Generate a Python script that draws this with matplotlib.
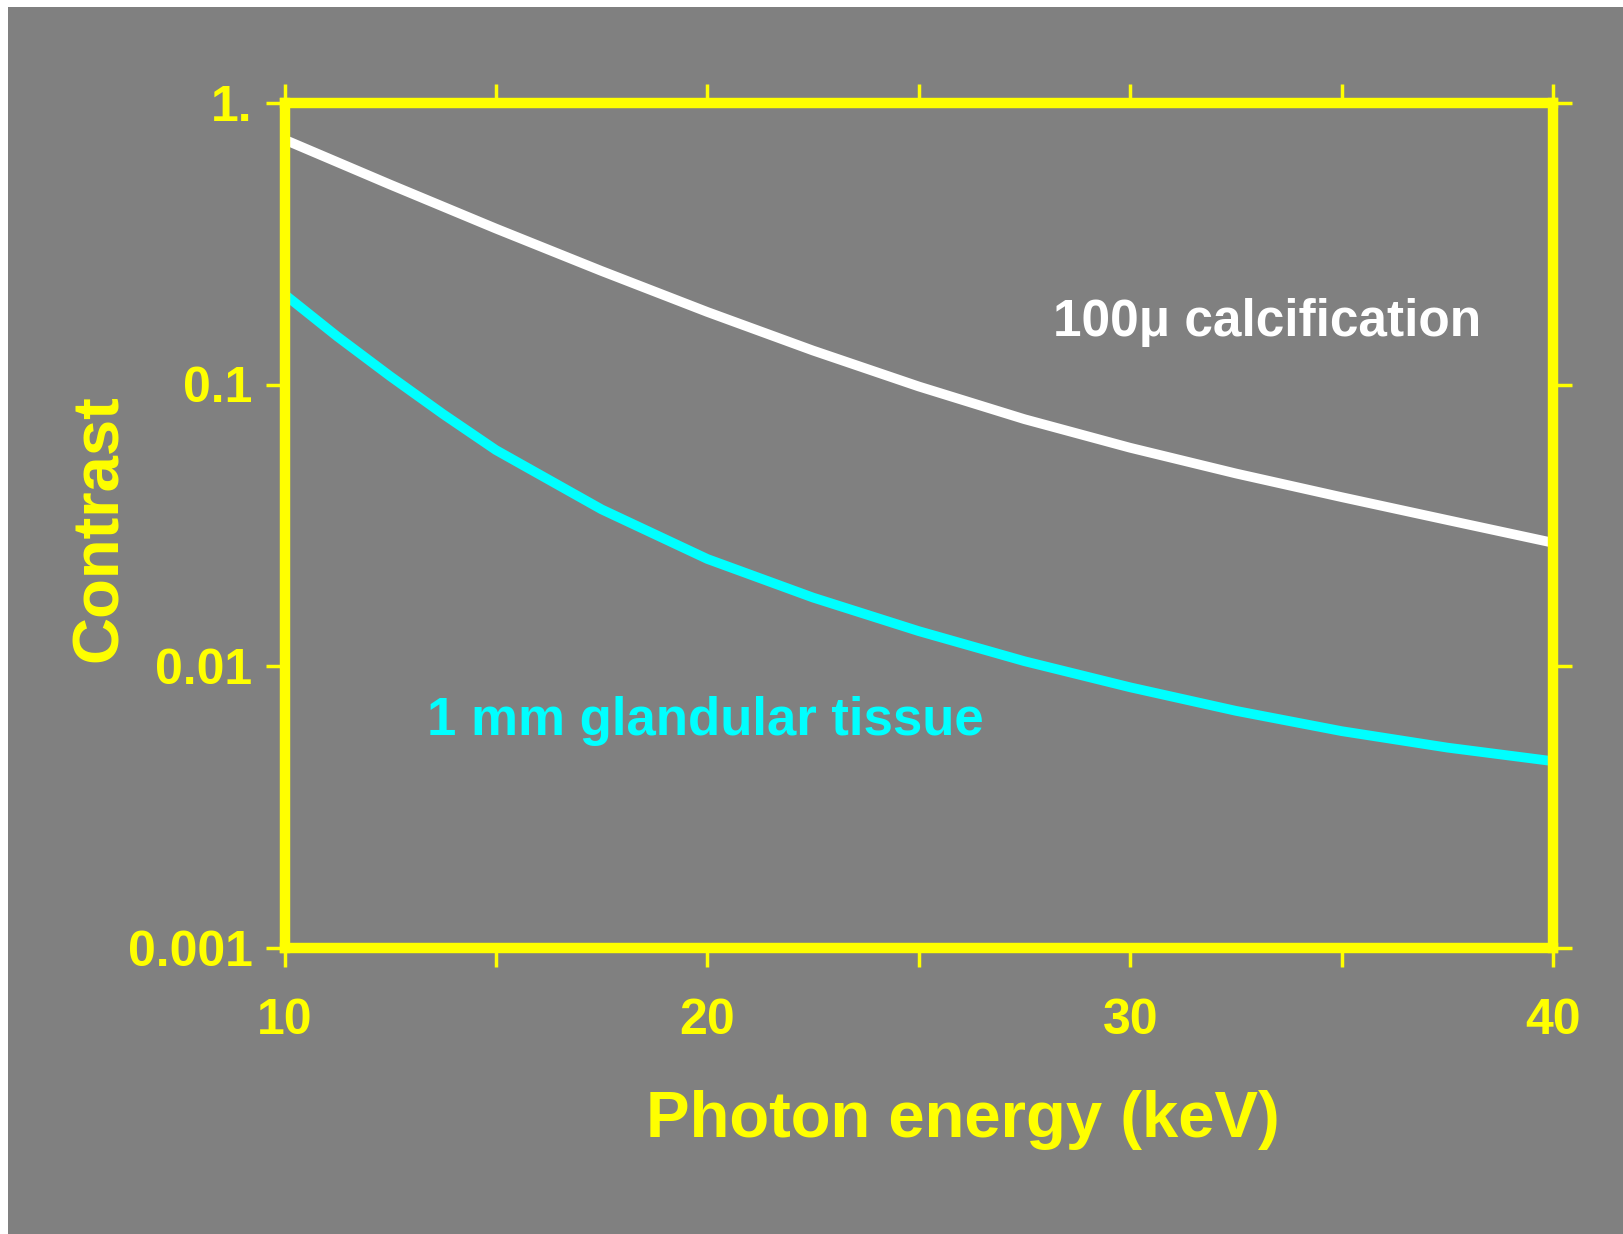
import numpy as np
import matplotlib
matplotlib.use('Agg')
import matplotlib.pyplot as plt
from matplotlib.patches import Rectangle
from matplotlib.ticker import FixedLocator, FixedFormatter

# photon energy (keV) and contrast
calc_energy = [10, 12.5, 15, 17.5, 20, 22.5, 25, 27.5, 30, 32.5, 35, 37.5, 40]
calc_contrast = [0.741, 0.513, 0.358, 0.253, 0.181, 0.132, 0.0984, 0.0753,
                 0.0596, 0.0483, 0.0398, 0.0330, 0.0274]
gland_energy = [10, 11.25, 12.5, 13.75, 15, 17.5, 20, 22.5, 25, 27.5, 30,
                32.5, 35, 37.5, 40]
gland_contrast = [0.209, 0.148, 0.107, 0.0785, 0.0585, 0.0360, 0.0240,
                  0.0175, 0.0133, 0.0104, 0.0084, 0.00693, 0.00587, 0.00513,
                  0.00459]

x_ticks = [10, 15, 20, 25, 30, 35, 40]
x_ticklabels = ['10', '', '20', '', '30', '', '40']
y_ticks = [0.001, 0.01, 0.1, 1.0]
y_ticklabels = ['0.001', '0.01', '0.1', '1.']

W, H = 1623, 1234
gray = '#808080'
yellow = '#ffff00'
cyan = '#00ffff'


def plot_data(fname='out.png'):
    fig = plt.figure(figsize=(W/100, H/100), dpi=100, facecolor='white')
    fig.add_artist(Rectangle((8/W, 0), 1, 1 - 7/H, transform=fig.transFigure,
                             facecolor=gray, edgecolor='none', zorder=-10))
    ax = fig.add_axes([284.5/W, 1 - 947.5/H, 1268.5/W, 844.5/H])
    ax.set_facecolor(gray)

    ax.plot(calc_energy, calc_contrast, c='white', lw=7,
            solid_capstyle='round', solid_joinstyle='round')
    ax.plot(gland_energy, gland_contrast, c=cyan, lw=7,
            solid_capstyle='round', solid_joinstyle='round')

    ax.set_yscale('log')
    ax.set_xlim(10, 40)
    ax.set_ylim(0.001, 1.0)
    ax.xaxis.set_major_locator(FixedLocator(x_ticks))
    ax.xaxis.set_major_formatter(FixedFormatter(x_ticklabels))
    ax.yaxis.set_major_locator(FixedLocator(y_ticks))
    ax.yaxis.set_major_formatter(FixedFormatter(y_ticklabels))
    ax.yaxis.set_minor_locator(FixedLocator([]))

    for s in ax.spines.values():
        s.set_color(yellow)
        s.set_linewidth(7.5)
        s.set_zorder(5)
    ax.tick_params(which='major', direction='out', length=14, width=2.5,
                   color=yellow, labelcolor=yellow, labelsize=36,
                   top=True, right=True)
    ax.tick_params(axis='x', pad=22)
    ax.tick_params(axis='y', pad=9)
    for lab in ax.get_xticklabels() + ax.get_yticklabels():
        lab.set_fontweight('bold')

    ax.set_xlabel('Photon energy (keV)', color=yellow, fontsize=47,
                  fontweight='bold', va='center', ha='center')
    ax.xaxis.set_label_coords(0.535, -0.204)
    ax.set_ylabel('Contrast', color=yellow, fontsize=47, fontweight='bold',
                  va='center', ha='center')
    ax.yaxis.set_label_coords(-0.1454, 0.497)

    ax.text(33.24, 0.1654, '100\u03bc calcification', color='white',
            fontsize=37, fontweight='bold', ha='center', va='center')
    ax.text(19.95, 0.00638, '1 mm glandular tissue', color=cyan,
            fontsize=38, fontweight='bold', ha='center', va='center')

    fig.savefig(fname, dpi=100, facecolor=fig.get_facecolor())
    plt.close(fig)


if __name__ == '__main__':
    plt.rcParams.update({"font.family": ["Liberation Sans", "DejaVu Sans"]})
    plot_data()
